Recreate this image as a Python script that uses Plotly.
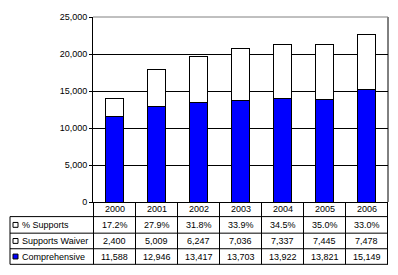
import plotly.graph_objects as go

years = ["2000", "2001", "2002", "2003", "2004", "2005", "2006"]
comprehensive = [11588, 12946, 13417, 13703, 13922, 13821, 15149]
supports_waiver = [2400, 5009, 6247, 7036, 7337, 7445, 7478]
pct_supports = ["17.2%", "27.9%", "31.8%", "33.9%", "34.5%", "35.0%", "33.0%"]
y_ticks = [0, 5000, 10000, 15000, 20000, 25000]

# page body has an 8px default margin, so the figure is drawn 8px in and down
OFF = 8
W, H = 398 - OFF, 275 - OFF
L, R, T, B = 93 - OFF, 10, 12 - OFF, 73
pw, ph = W - L - R, H - T - B
FONT = dict(family="Liberation Sans, Arial", size=9, color="black")

def px_y(y):  # screen pixel row -> paper y
    return (H - B - (y - OFF)) / ph

def px_x(x):  # screen pixel col -> paper x
    return (x - OFF - L) / pw

fig = go.Figure()
fig.add_trace(go.Bar(x=years, y=comprehensive, name="Comprehensive",
                     marker=dict(color="#0000FF", line=dict(color="black", width=1))))
fig.add_trace(go.Bar(x=years, y=supports_waiver, name="Supports Waiver",
                     marker=dict(color="white", line=dict(color="black", width=1))))

shapes, annos = [], []
line = dict(color="black", width=1)

# row boundaries (screen pixel y) of the data table under the plot
rows_px = [202, 217, 234, 250, 266]
for yp in rows_px[1:]:
    shapes.append(dict(type="line", xref="paper", yref="paper",
                       x0=px_x(10), x1=1, y0=px_y(yp), y1=px_y(yp), line=line))
shapes.append(dict(type="line", xref="paper", yref="paper",
                   x0=px_x(10), x1=px_x(10), y0=px_y(217), y1=px_y(266), line=line))
for i in range(len(years) + 1):
    shapes.append(dict(type="line", xref="x", yref="paper",
                       x0=i - 0.5, x1=i - 0.5, y0=0, y1=px_y(266), line=line))
# right border of plot, grey top edge
shapes.append(dict(type="line", xref="paper", yref="paper",
                   x0=1, x1=1, y0=0, y1=1, line=line))
shapes.append(dict(type="line", xref="paper", yref="paper",
                   x0=0, x1=1, y0=1, y1=1,
                   line=dict(color="#808080", width=1)))

centers = [(rows_px[k] + rows_px[k + 1]) / 2 for k in range(4)]
for i, yr in enumerate(years):
    annos.append(dict(x=i, y=px_y(centers[0]), xref="x", yref="paper", text=yr,
                      xanchor="center", yanchor="middle", showarrow=False, font=FONT))
    for k, val in enumerate([pct_supports[i], f"{supports_waiver[i]:,}", f"{comprehensive[i]:,}"]):
        annos.append(dict(x=i, y=px_y(centers[k + 1]), xref="x", yref="paper", text=val,
                          xanchor="center", yanchor="middle", showarrow=False, font=FONT))

labels = [("% Supports", "white"), ("Supports Waiver", "white"), ("Comprehensive", "#0000FF")]
for k, (lab, col) in enumerate(labels):
    yc = centers[k + 1]
    shapes.append(dict(type="rect", xref="paper", yref="paper",
                       x0=px_x(13), x1=px_x(18), y0=px_y(yc + 2.5), y1=px_y(yc - 2.5),
                       fillcolor=col, line=dict(color="black", width=1)))
    annos.append(dict(x=px_x(20), y=px_y(yc), xref="paper", yref="paper", text=lab,
                      xanchor="left", yanchor="middle", showarrow=False, font=FONT))

fig.update_layout(
    barmode="stack", bargap=0.57, showlegend=False,
    width=W, height=H, margin=dict(l=L, r=R, t=T, b=B),
    paper_bgcolor="white", plot_bgcolor="white",
    font=FONT, shapes=shapes, annotations=annos,
    xaxis=dict(showticklabels=False, ticks="", showgrid=False, showline=True,
               linecolor="black", linewidth=1),
    yaxis=dict(range=[0, 25000], tickvals=y_ticks, tickformat=",", ticks="outside",
               ticklen=3, tickcolor="black", showgrid=True, gridcolor="black", gridwidth=1,
               showline=True, linecolor="black", linewidth=1, zeroline=False,
               ticklabeloverflow="allow"),
)
fig.write_html("out.html")
